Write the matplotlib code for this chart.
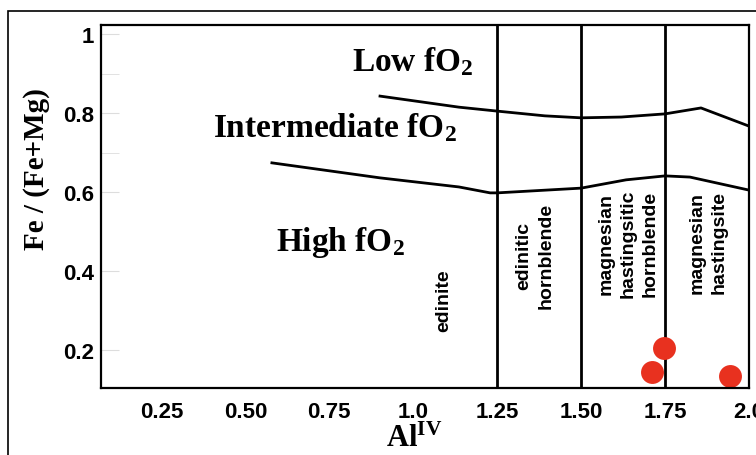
import matplotlib
matplotlib.use('Agg')
import matplotlib.pyplot as plt
from matplotlib.patches import Rectangle

# boundary between Low and Intermediate fO2
upper_x = [0.901, 1.136, 1.25, 1.392, 1.5, 1.62, 1.75, 1.857, 2.0]
upper_y = [0.843, 0.815, 0.805, 0.793, 0.788, 0.790, 0.798, 0.813, 0.767]
# boundary between Intermediate and High fO2
lower_x = [0.579, 0.901, 1.136, 1.229, 1.25, 1.5, 1.634, 1.75, 1.824, 2.0]
lower_y = [0.674, 0.636, 0.613, 0.598, 0.598, 0.610, 0.631, 0.641, 0.638, 0.605]
# amphibole field boundaries (Al IV)
boundaries = [1.25, 1.5, 1.75]
# samples
al_iv = [1.747, 1.711, 1.943]
fe_ratio = [0.205, 0.145, 0.134]

xticks = [0.25, 0.5, 0.75, 1.0, 1.25, 1.5, 1.75, 2.0]
xlabels = ['0.25', '0.50', '0.75', '1.0', '1.25', '1.50', '1.75', '2.0']
yticks = [0.2, 0.4, 0.6, 0.8, 1.0]
ylabels = ['0.2', '0.4', '0.6', '0.8', '1']

fields = [
    ('edinite', 1.092, 0.327),
    ('edinitic\nhornblende', 1.363, 0.442),
    ('magnesian\nhastingsitic\nhornblende', 1.640, 0.472),
    ('magnesian\nhastingsite', 1.878, 0.474),
]
fo2 = [
    ('Low fO$_2$', 1.0, 0.932),
    ('Intermediate fO$_2$', 0.767, 0.765),
    ('High fO$_2$', 0.782, 0.476),
]

plt.rcParams['mathtext.fontset'] = 'custom'
plt.rcParams['mathtext.rm'] = 'Liberation Serif:bold'
plt.rcParams['mathtext.it'] = 'Liberation Serif:bold'
plt.rcParams['mathtext.bf'] = 'Liberation Serif:bold'

fig = plt.figure(figsize=(7.56, 4.56), dpi=100)
ax = fig.add_axes([101/756, 1 - 389/456, 648/756, 363/456])

# outer frame of the figure
fig.patches.append(Rectangle((8/756, -0.2), 1.2, 0.2 + 1 - 12/456, transform=fig.transFigure,
                             fill=False, lw=1.2, ec='black'))

ax.plot(upper_x, upper_y, color='black', lw=2)
ax.plot(lower_x, lower_y, color='black', lw=2)
for b in boundaries:
    ax.axvline(b, color='black', lw=2)
ax.plot(al_iv, fe_ratio, 'o', color='#e8311f', markersize=16.5, markeredgewidth=0)

for label, x, y in fields:
    ax.text(x, y, label, rotation=90, ha='center', va='center', fontsize=14,
            family='Liberation Sans', weight='bold', linespacing=1.4)
for label, x, y in fo2:
    ax.text(x, y, label, ha='center', va='center', fontsize=24,
            family='Liberation Serif', weight='bold')

ax.set_xlim(0.07, 2.0)
ax.set_ylim(0.104, 1.023)
ax.set_xticks(xticks)
ax.set_xticklabels(xlabels, family='Liberation Sans', weight='bold', fontsize=16)
ax.set_yticks(yticks)
ax.set_yticklabels(ylabels, family='Liberation Sans', weight='bold', fontsize=16)
ax.set_yticks([0.7, 0.9], minor=True)
ax.tick_params(axis='y', which='both', direction='in', length=13, color='#dddddd', pad=5)
ax.tick_params(axis='x', length=0, pad=9)

for s in ax.spines.values():
    s.set_linewidth(1.6)

ax.set_ylabel('Fe / (Fe+Mg)', family='Liberation Serif', weight='bold', fontsize=21)
ax.yaxis.set_label_coords(-0.079, 0.606)
ax.set_xlabel('Al$^{\\rm IV}$', family='Liberation Serif', weight='bold', fontsize=22)
ax.xaxis.set_label_coords(0.484, -0.098)
ax.xaxis.label.set_va('top')

fig.savefig('out.png', dpi=100)
